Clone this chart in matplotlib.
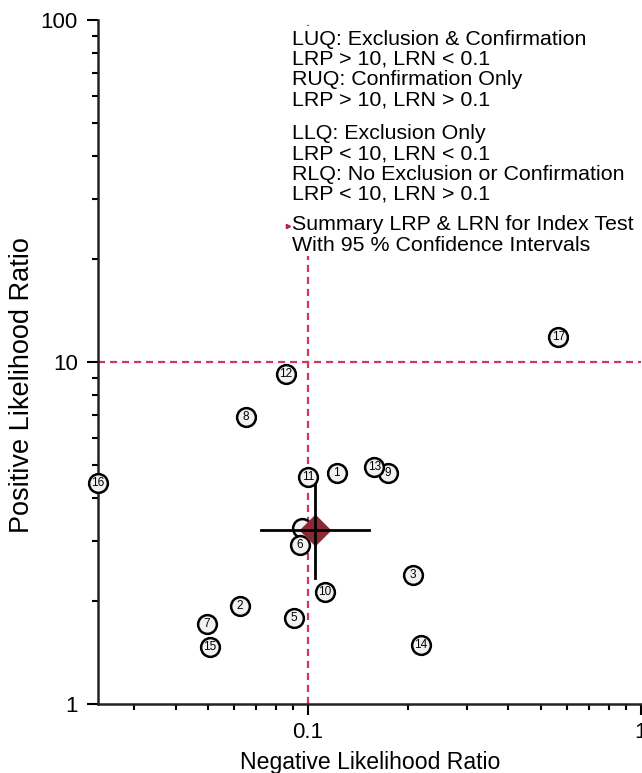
import numpy as np
import matplotlib
matplotlib.use("Agg")
import matplotlib.pyplot as plt
from matplotlib.patches import Rectangle
from matplotlib.lines import Line2D

plt.rcParams['font.family'] = ['Liberation Sans', 'DejaVu Sans']

# study estimates: negative LR (x) and positive LR (y)
study_ids = ["1", "2", "3", "4", "5", "6", "7", "8", "9", "10",
             "11", "12", "13", "14", "15", "16", "17"]
lrn = [0.122, 0.0625, 0.206, 0.0957, 0.0908, 0.0944, 0.0496, 0.065, 0.174, 0.1125,
       0.100, 0.0857, 0.158, 0.218, 0.0508, 0.0234, 0.565]
lrp = [4.73, 1.94, 2.39, 3.26, 1.78, 2.92, 1.71, 6.92, 4.73, 2.13,
       4.60, 9.21, 4.93, 1.49, 1.47, 4.42, 11.86]

# summary point with 95% CI
sum_lrn = 0.105
sum_lrn_ci = [0.0721, 0.152]
sum_lrp = 3.23
sum_lrp_ci = [2.34, 4.40]

legend_blocks = [
    "LUQ: Exclusion & Confirmation\nLRP > 10, LRN < 0.1\nRUQ: Confirmation Only\nLRP > 10, LRN > 0.1",
    "LLQ: Exclusion Only\nLRP < 10, LRN < 0.1\nRLQ: No Exclusion or Confirmation\nLRP < 10, LRN > 0.1",
    "Summary LRP & LRN for Index Test\nWith 95 % Confidence Intervals",
]
W, H = 642, 773

fig = plt.figure(figsize=(W / 100, H / 100), dpi=100)
ax = fig.add_axes([98 / W, 69 / H, 543 / W, 684 / H])
ax.set_xscale('log')
ax.set_yscale('log')
ax.set_xlim(0.0234, 1)
ax.set_ylim(1, 100)

dash_col = '#d1365f'
ax.axvline(0.1, color=dash_col, lw=1.6, ls=(0, (3.2, 2.2)), zorder=1)
ax.axhline(10, color=dash_col, lw=1.6, ls=(0, (3.2, 2.2)), zorder=1)

# study circles
for i in range(len(study_ids)):
    ax.plot(lrn[i], lrp[i], 'o', ms=13.5, mfc='#f2f2f2', mec='black', mew=1.8,
            zorder=3, clip_on=False)
    if study_ids[i] != "4":
        ax.text(lrn[i], lrp[i], study_ids[i], ha='center', va='center',
                fontsize=8.5, zorder=4, clip_on=False)

# summary
ax.plot(sum_lrn, sum_lrp, 'D', ms=15, color='#8b2a33', zorder=5)
ax.plot(sum_lrn_ci, [sum_lrp, sum_lrp], color='black', lw=2, zorder=6)
ax.plot([sum_lrn, sum_lrn], sum_lrp_ci, color='black', lw=2, zorder=6)

ax.spines['top'].set_visible(False)
ax.spines['right'].set_visible(False)
for s in ['left', 'bottom']:
    ax.spines[s].set_linewidth(1.8)
    ax.spines[s].set_color('#222222')
ax.tick_params(which='major', direction='out', length=8, width=1.5, labelsize=16)
ax.tick_params(which='minor', direction='out', length=4, width=1.5)
ax.tick_params(axis='y', which='major', pad=6.5)
ax.tick_params(axis='x', which='major', pad=5)
ax.set_xticks([0.1, 1])
ax.set_xticklabels(["0.1", "1"])
ax.set_yticks([1, 10, 100])
ax.set_yticklabels(["1", "10", "100"])

# legend area (white box hides the dashed line)
fig.patches.append(Rectangle((285 / W, 1 - 256 / H), (W - 285) / W, 230 / H,
                             transform=fig.transFigure, facecolor='white',
                             edgecolor='none', zorder=1))
block_centres = [69.5, 164, 235]
for txt, yc in zip(legend_blocks, block_centres):
    fig.text(292 / W, 1 - yc / H, txt, fontsize=15.4, ha='left', va='center',
             linespacing=1.08)
fig.add_artist(Line2D([288 / W], [1 - 226 / H], marker='>', ms=3,
                      color='#b0243f', transform=fig.transFigure))

fig.text(370 / W, 1 - 762 / H, "Negative Likelihood Ratio", fontsize=16.6,
         ha='center', va='center')
fig.text(22 / W, 1 - 385 / H, "Positive Likelihood Ratio", fontsize=19.5,
         ha='center', va='center', rotation=90)

fig.savefig("out.png", dpi=100)
